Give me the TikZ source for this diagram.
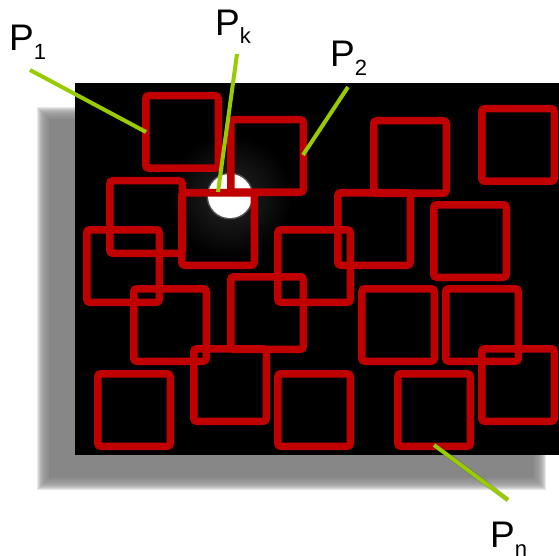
\documentclass[tikz,border=0pt]{standalone}
\usepackage{fontspec}
\setmainfont{Liberation Sans}
\definecolor{boxred}{HTML}{C00000}
\definecolor{leader}{HTML}{99CC00}
\definecolor{shadowgray}{HTML}{878787}
\begin{document}
\begin{tikzpicture}[x=1pt,y=-1pt,
  sq/.style={draw=boxred,line width=7.5pt,rounded corners=3pt,
    minimum size=72.5pt,inner sep=0pt,rectangle},
  lead/.style={draw=leader,line width=4pt},
  lbl/.style={inner sep=0pt,anchor=base west,font=\fontsize{37}{37}\selectfont}]
\useasboundingbox (0,0) rectangle (559,556);
% soft drop shadow behind the panel, built from stacked translucent layers
\foreach \d in {8,7,...,-3}
  \fill[shadowgray,opacity=0.2] (45-\d,115-\d) rectangle (538+\d,482+\d);
\fill[shadowgray] (49,119) rectangle (534,478);
% black panel
\fill[black] (75,83) rectangle (559,455);
% bright spot with its faint glow
\shade[inner color=black!85!white,outer color=black] (230,196) circle (62);
\fill[white,opacity=0.25] (230,196) circle (23.5);
\fill[white] (230,196) circle (22);
% red squares
\node[sq] (s1)  at (182,132) {};
\node[sq] (s2)  at (267,156) {};
\node[sq] (s3)  at (410,157) {};
\node[sq] (s4)  at (518,145) {};
\node[sq] (s5)  at (146,217) {};
\node[sq] (s6)  at (218,229) {};
\node[sq] (s7)  at (123,266) {};
\node[sq] (s8)  at (170,325) {};
\node[sq] (s9)  at (267,313) {};
\node[sq] (s10) at (314,266) {};
\node[sq] (s11) at (374,229) {};
\node[sq] (s12) at (470,241) {};
\node[sq] (s13) at (398,325) {};
\node[sq] (s14) at (482,325) {};
\node[sq] (s15) at (518,385) {};
\node[sq] (s16) at (134,410) {};
\node[sq] (s17) at (230,385) {};
\node[sq] (s18) at (314,410) {};
\node[sq] (s19) at (434,410) {};
% labels
\node[lbl] (l1) at (9,51) {P\raisebox{-9pt}{\fontsize{22}{22}\selectfont 1}};
\node[lbl] (lk) at (215,36) {P\raisebox{-8pt}{\fontsize{22}{22}\selectfont k}};
\node[lbl] (l2) at (330,67) {P\raisebox{-9pt}{\fontsize{22}{22}\selectfont 2}};
\node[lbl] (ln) at (490,547) {P\raisebox{-9pt}{\fontsize{22}{22}\selectfont n}};
% leader lines
\coordinate (a1) at (30,70);   \coordinate (b1) at (146,132);
\coordinate (ak) at (237,54);  \coordinate (bk) at (218,192);
\coordinate (a2) at (348,87);  \coordinate (b2) at (303,155);
\coordinate (an) at (508,500); \coordinate (bn) at (434,445);
\draw[black,opacity=0.2,line width=5pt,shift={(3,3)}] (bn) -- (an);
\draw[lead] (a1) -- (b1);
\draw[lead] (ak) -- (bk);
\draw[lead] (a2) -- (b2);
\draw[lead] (bn) -- (an);
\end{tikzpicture}
\end{document}
